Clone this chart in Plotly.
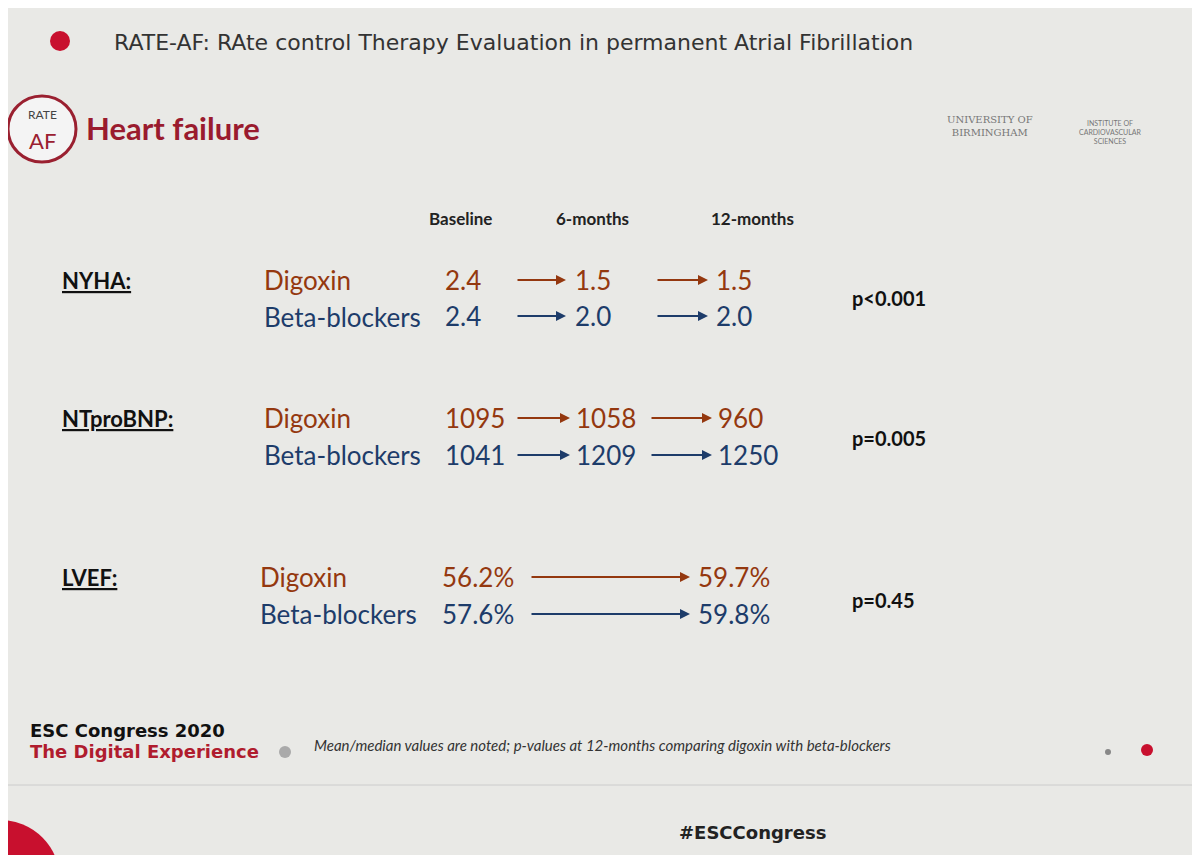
import plotly.graph_objects as go

# ---- data ----
headers = ["Baseline", "6-months", "12-months"]
measures = ["NYHA:", "NTproBNP:", "LVEF:"]
groups = ["Digoxin", "Beta-blockers"]
nyha_dig = ["2.4", "1.5", "1.5"]
nyha_bb = ["2.4", "2.0", "2.0"]
bnp_dig = ["1095", "1058", "960"]
bnp_bb = ["1041", "1209", "1250"]
lvef_dig = ["56.2%", "59.7%"]
lvef_bb = ["57.6%", "59.8%"]
pvalues = ["p<0.001", "p=0.005", "p=0.45"]

DIG = "#94380f"
BB = "#1d3c6a"
FONT = "Lato"
O = -8  # page offset compensation

fig = go.Figure()
ann = []
shapes = []

def txt(x, y, t, size=26, color="#222", anchor="left", bold=False, italic=False, family=FONT):
    if bold:
        t = "<b>" + t + "</b>"
    if italic:
        t = "<i>" + t + "</i>"
    ann.append(dict(x=x + O, y=y + O, text=t, showarrow=False, xanchor=anchor, yanchor="middle",
                    font=dict(size=size, color=color, family=family)))

def arrow(x0, x1, y, color):
    ann.append(dict(x=x1 + O, y=y + O, ax=x0 + O, ay=y + O, xref="x", yref="y", axref="x", ayref="y",
                    text="", showarrow=True, arrowhead=2, arrowsize=1, arrowwidth=2,
                    arrowcolor=color))

def circ(x0, x1, y0, y1, **kw):
    shapes.append(dict(type="circle", x0=x0 + O, x1=x1 + O, y0=y0 + O, y1=y1 + O, **kw))

# header
circ(50, 70, 31, 51, fillcolor="#c8102e", line_width=0)
txt(112, 42, "RATE-AF: RAte control Therapy Evaluation in permanent Atrial Fibrillation",
    size=22, color="#333", family="DejaVu Sans")
circ(8, 76, 96, 162, fillcolor="#f4f4f4", line=dict(color="#9a2030", width=3))
txt(42, 114, "RATE", size=12, color="#444", anchor="center")
txt(42, 140, "AF", size=22, color="#9a2030", anchor="center")
txt(84, 128, "Heart failure", size=31, color="#9a1b2e", bold=True)
txt(990, 126, "UNIVERSITY OF<br>BIRMINGHAM", size=10, color="#777", anchor="center", family="DejaVu Serif")
txt(1110, 132, "INSTITUTE OF<br>CARDIOVASCULAR<br>SCIENCES", size=7, color="#777", anchor="center")

# column headers
for x, h in zip([460, 592, 752], headers):
    txt(x, 218, h, size=17, color="#222", anchor="center", bold=True)

for y, m in zip([280, 418, 577], measures):
    txt(60, y, "<u>" + m + "</u>", size=22, color="#111", bold=True)
for y, p in zip([298, 438, 600], pvalues):
    txt(850, y, p, size=20, color="#111", bold=True)

for y0 in [280, 418, 577]:
    x = 262 if y0 != 577 else 258
    txt(x, y0, groups[0], color=DIG)
    txt(x, y0 + 37, groups[1], color=BB)

for vals, y, c in [(nyha_dig, 280, DIG), (nyha_bb, 316, BB)]:
    txt(443, y, vals[0], color=c)
    arrow(516, 566, y, c)
    txt(573, y, vals[1], color=c)
    arrow(656, 708, y, c)
    txt(714, y, vals[2], color=c)

for vals, y, c in [(bnp_dig, 418, DIG), (bnp_bb, 455, BB)]:
    txt(443, y, vals[0], color=c)
    arrow(516, 570, y, c)
    txt(574, y, vals[1], color=c)
    arrow(650, 712, y, c)
    txt(716, y, vals[2], color=c)

for vals, y, c in [(lvef_dig, 577, DIG), (lvef_bb, 614, BB)]:
    txt(440, y, vals[0], color=c)
    arrow(530, 690, y, c)
    txt(696, y, vals[1], color=c)

# footer
txt(28, 730, "ESC Congress 2020", size=18, color="#111", bold=True, family="DejaVu Sans")
txt(28, 751, "The Digital Experience", size=18, color="#b01c2e", bold=True, family="DejaVu Sans")
circ(279, 291, 746, 758, fillcolor="#aaa", line_width=0)
txt(312, 745, "Mean/median values are noted; p-values at 12-months comparing digoxin with beta-blockers",
    size=15, color="#333", italic=True)
circ(1105, 1111, 749, 755, fillcolor="#888", line_width=0)
circ(1141, 1153, 744, 756, fillcolor="#c8102e", line_width=0)
shapes.append(dict(type="line", x0=0, x1=1200, y0=785 + O, y1=785 + O, line=dict(color="#ccc", width=1)))
circ(-60, 60, 820, 940, fillcolor="#c8102e", line_width=0)
txt(752, 832, "#ESCCongress", size=18, color="#222", anchor="center", bold=True, family="DejaVu Sans")

fig.update_layout(
    width=1200, height=855, margin=dict(l=0, r=0, t=0, b=0),
    paper_bgcolor="#e9e9e6", plot_bgcolor="#e9e9e6",
    xaxis=dict(range=[0, 1200], visible=False, fixedrange=True),
    yaxis=dict(range=[855, 0], visible=False, fixedrange=True),
    annotations=ann, shapes=shapes, showlegend=False,
)
fig.write_html("out.html")
